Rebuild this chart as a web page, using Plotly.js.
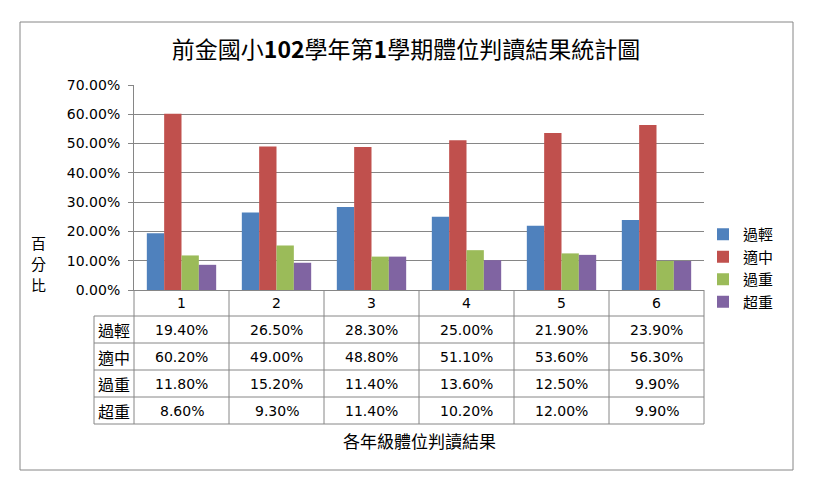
<!DOCTYPE html>
<html>
<head>
<meta charset="utf-8">
<script src="https://cdn.plot.ly/plotly-3.0.1.min.js"></script>
<style>html,body{margin:0;padding:0;background:#fff;}#chart{width:835px;height:487px;}</style>
</head>
<body>
<div id="chart"></div>
<script>
// ---- data ----
var grades = ['1', '2', '3', '4', '5', '6'];
var seriesNames = ['過輕', '適中', '過重', '超重'];
var underweight = [19.4, 26.5, 28.3, 25.0, 21.9, 23.9];
var normal = [60.2, 49.0, 48.8, 51.1, 53.6, 56.3];
var overweight = [11.8, 15.2, 11.4, 13.6, 12.5, 9.9];
var obese = [8.6, 9.3, 11.4, 10.2, 12.0, 9.9];
var seriesValues = [underweight, normal, overweight, obese];
var colors = ['#4F81BD', '#C0504D', '#9BBB59', '#8064A2'];
var yTitleChars = ['百', '分', '比'];

// ---- geometry (pixels) ----
var W = 835, H = 487;
var L = 134, R = 704, T = 85, B = 290;
var pw = R - L, ph = B - T;
function px(x) { return (x - L) / pw; }
function py(y) { return (B - y) / ph; }

var grey = '#868686';
var numFont = 'DejaVu Sans, sans-serif';
var cjkFont = '"Noto Sans CJK TC", sans-serif';

var traces = seriesNames.map(function (n, i) {
  return {
    type: 'bar', name: n, x: grades, y: seriesValues[i],
    marker: {color: colors[i], line: {width: 0}},
    hoverinfo: 'skip'
  };
});

// table lines
var shapes = [];
var rowLines = [316, 343, 370, 397, 424];
var tableLeft = 94;
function line(x0, y0, x1, y1) {
  shapes.push({type: 'line', xref: 'paper', yref: 'paper',
    x0: px(x0), y0: py(y0), x1: px(x1), y1: py(y1),
    line: {color: grey, width: 1}});
}
line(L, rowLines[0], R, rowLines[0]);
for (var r = 1; r < rowLines.length; r++) line(tableLeft, rowLines[r], R, rowLines[r]);
line(tableLeft, rowLines[0], L, rowLines[0]);
line(tableLeft, rowLines[0], tableLeft, rowLines[4]);
for (var k = 0; k <= grades.length; k++) {
  var xx = L + pw * k / grades.length;
  line(xx, B, xx, rowLines[4]);
}
// outer frame
shapes.push({type: 'rect', xref: 'paper', yref: 'paper',
  x0: px(20), x1: px(793), y0: py(22), y1: py(470),
  line: {color: grey, width: 1}, fillcolor: 'rgba(0,0,0,0)'});

var annotations = [];
grades.forEach(function (g, j) {
  annotations.push({xref: 'paper', yref: 'paper',
    x: (j + 0.5) / grades.length, y: py((B + rowLines[0]) / 2),
    text: g, showarrow: false, xanchor: 'center', yanchor: 'middle',
    font: {family: numFont, size: 14, color: '#000'}});
});
seriesNames.forEach(function (n, i) {
  var yc = py((rowLines[i] + rowLines[i + 1]) / 2);
  annotations.push({xref: 'paper', yref: 'paper',
    x: px((tableLeft + L) / 2), y: yc, text: n, showarrow: false,
    xanchor: 'center', yanchor: 'middle',
    font: {family: cjkFont, size: 16, color: '#000'}});
  seriesValues[i].forEach(function (v, j) {
    annotations.push({xref: 'paper', yref: 'paper',
      x: (j + 0.5) / grades.length, y: yc,
      text: v.toFixed(2) + '%', showarrow: false,
      xanchor: 'center', yanchor: 'middle',
      font: {family: numFont, size: 14, color: '#000'}});
  });
});
yTitleChars.forEach(function (c, i) {
  annotations.push({xref: 'paper', yref: 'paper', x: px(38), y: py(242 + 21 * i),
    text: c, showarrow: false, xanchor: 'center', yanchor: 'middle',
    font: {family: cjkFont, size: 15, color: '#000'}});
});
annotations.push({xref: 'paper', yref: 'paper', x: px(419), y: py(440),
  text: '各年級體位判讀結果', showarrow: false, xanchor: 'center', yanchor: 'middle',
  font: {family: cjkFont, size: 17, color: '#000'}});

var layout = {
  width: W, height: H,
  margin: {l: L, r: W - R, t: T, b: H - B, pad: 0},
  paper_bgcolor: '#fff', plot_bgcolor: '#fff',
  title: {text: '前金國小<b>102</b>學年第<b>1</b>學期體位判讀結果統計圖',
    font: {family: cjkFont, size: 23, color: '#000'},
    xref: 'container', x: 406 / W, xanchor: 'center',
    yref: 'container', y: 1 - 50 / H, yanchor: 'middle'},
  barmode: 'group', bargap: 0.27, bargroupgap: 0,
  showlegend: true,
  legend: {x: px(703), y: py(218), xanchor: 'left', yanchor: 'top',
    font: {family: cjkFont, size: 15, color: '#000'},
    bgcolor: 'rgba(0,0,0,0)', tracegroupgap: 0, itemclick: false},
  xaxis: {type: 'category', showticklabels: false, ticks: '',
    showline: true, linecolor: grey, linewidth: 1, showgrid: false, zeroline: false,
    fixedrange: true},
  yaxis: {range: [0, 70], dtick: 10, tick0: 0, ticksuffix: '%', tickformat: '.2f',
    showgrid: true, gridcolor: grey, gridwidth: 1,
    showline: true, linecolor: grey, linewidth: 1,
    ticks: 'outside', ticklen: 5, tickcolor: grey, ticklabelstandoff: 5,
    zeroline: false,
    tickfont: {family: numFont, size: 14, color: '#000'}, fixedrange: true},
  shapes: shapes,
  annotations: annotations
};

Plotly.newPlot('chart', traces, layout, {displayModeBar: false, staticPlot: true});
</script>
</body>
</html>
